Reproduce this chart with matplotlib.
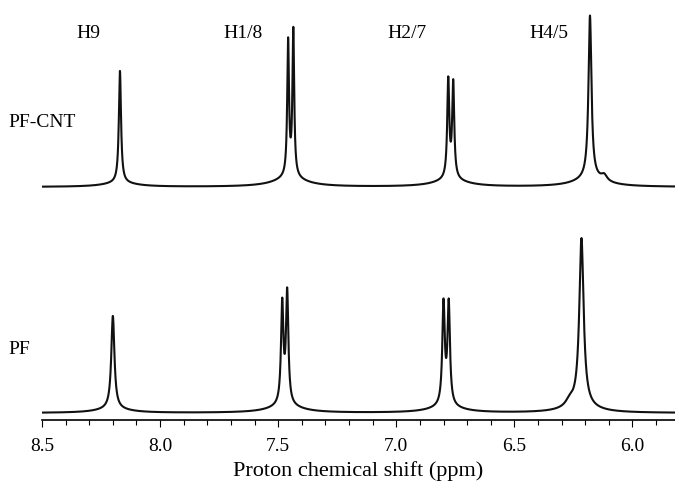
# 1H NMR spectra of PF and PF-CNT, aromatic region
import numpy as np
import matplotlib.pyplot as plt

plt.rcParams['font.family'] = 'Liberation Serif'
plt.rcParams['font.size'] = 14

# peak tables (ppm, height, half width at half height)
pf_pos = [8.200, 7.483, 7.462, 6.800, 6.778, 6.216, 6.266]
pf_amp = [93, 100, 111, 101, 101, 168, 6]
pf_hw = [0.008, 0.0060, 0.0060, 0.0062, 0.0062, 0.011, 0.02]

cnt_pos = [8.170, 7.458, 7.436, 6.780, 6.759, 6.180, 6.120]
cnt_amp = [112, 135, 146, 98, 95, 163, 6]
cnt_hw = [0.0055, 0.0045, 0.0045, 0.0052, 0.0052, 0.0075, 0.015]

# broad humps under the main lines
pf_broad_pos = [8.20, 7.47, 6.79, 6.22]
pf_broad_amp = [4, 7, 6, 6]
cnt_broad_pos = [8.17, 7.45, 6.77, 6.18]
cnt_broad_amp = [4, 9, 7, 8]
broad_hw = 0.08

# vertical offsets of the two traces
pf_base = 7
cnt_base = 233

labels = ['H9', 'H1/8', 'H2/7', 'H4/5']
label_x = [8.305, 7.65, 6.956, 6.355]


def spectrum(x, pos, amp, hw):
    y = np.zeros_like(x)
    for p, a, w in zip(pos, amp, hw):
        y += a / (1 + ((x - p) / w) ** 2)
    return y


ppm = np.linspace(8.5, 5.82, 6000)
pf = pf_base + spectrum(ppm, pf_pos, pf_amp, pf_hw) \
    + spectrum(ppm, pf_broad_pos, pf_broad_amp, [broad_hw] * 4)
cnt = cnt_base + spectrum(ppm, cnt_pos, cnt_amp, cnt_hw) \
    + spectrum(ppm, cnt_broad_pos, cnt_broad_amp, [broad_hw] * 4)

fig = plt.figure(figsize=(6.75, 4.83), dpi=100)
ax = fig.add_axes([42 / 675, 1 - 420 / 483, 1 - 42 / 675, 420 / 483])

ax.plot(ppm, pf, color='#111111', lw=1.5)
ax.plot(ppm, cnt, color='#111111', lw=1.5)

ax.set_xlim(8.5, 5.82)
ax.set_ylim(0, 420)
ax.set_xticks([8.5, 8.0, 7.5, 7.0, 6.5, 6.0])
ax.set_xticks(np.arange(5.9, 8.5, 0.1), minor=True)
ax.set_xticklabels(['8.5', '8.0', '7.5', '7.0', '6.5', '6.0'])
ax.tick_params(axis='x', which='major', length=5, width=0.8, pad=8)
ax.tick_params(axis='x', which='minor', length=3.5, width=0.8)
ax.set_yticks([])
for s in ['left', 'right', 'top']:
    ax.spines[s].set_visible(False)
ax.spines['bottom'].set_linewidth(1.2)
ax.set_xlabel('Proton chemical shift (ppm)', fontsize=16, labelpad=4)

for lab, lx in zip(labels, label_x):
    ax.text(lx, 387, lab, ha='center', va='center')

fig.text(8 / 675, 1 - 123 / 483, 'PF-CNT', ha='left', va='center')
fig.text(8 / 675, 1 - 350 / 483, 'PF', ha='left', va='center')

fig.savefig('out.png', dpi=100)
